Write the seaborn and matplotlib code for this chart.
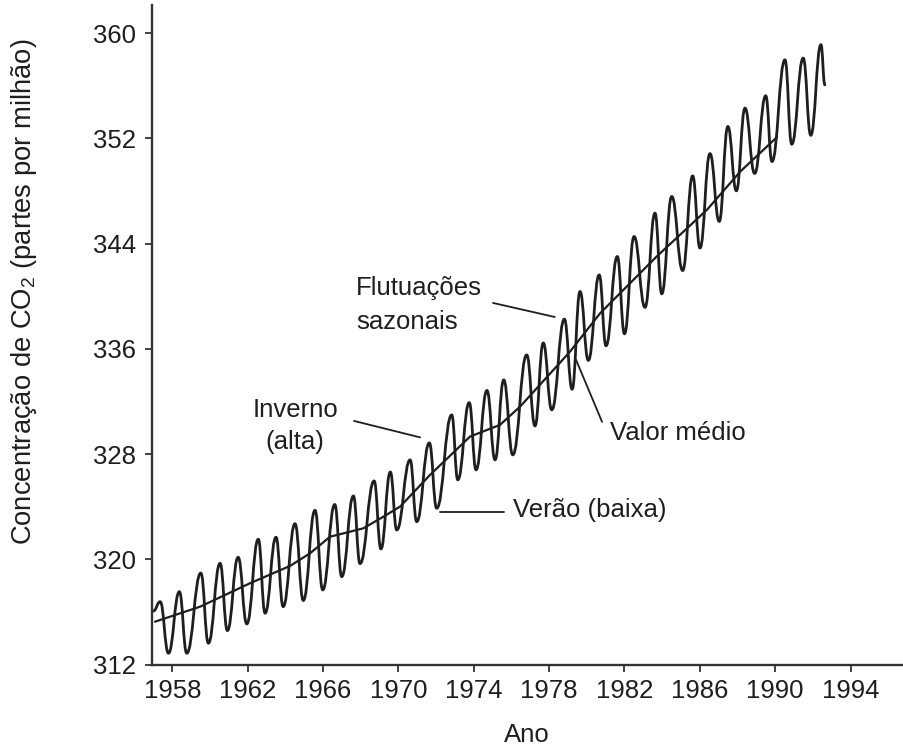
import numpy as np
import pandas as pd
import matplotlib
matplotlib.use("Agg")
import matplotlib.pyplot as plt
from matplotlib.path import Path
from matplotlib.patches import PathPatch
import seaborn as sns

# seasonal curve: start point, then alternating peaks (winter) and troughs (summer)
season_year = [1956.99, 1957.35, 1957.79, 1958.37, 1958.76, 1959.51, 1959.91, 1960.53, 1960.92,
               1961.49, 1961.95, 1962.56, 1962.92, 1963.50, 1963.88, 1964.51, 1964.95, 1965.57,
               1965.98, 1966.62, 1966.99, 1967.61, 1967.96, 1968.71, 1969.07, 1969.57, 1969.91,
               1970.62, 1970.97, 1971.64, 1972.03, 1972.83, 1973.15, 1973.76, 1974.12, 1974.70,
               1975.13, 1975.59, 1976.07, 1976.81, 1977.25, 1977.69, 1978.14, 1978.81, 1979.22,
               1979.64, 1980.08, 1980.66, 1981.02, 1981.62, 1982.00, 1982.51, 1983.09, 1983.62,
               1983.98, 1984.51, 1985.09, 1985.62, 1986.01, 1986.54, 1987.03, 1987.49, 1987.94,
               1988.40, 1988.91, 1989.50, 1989.83, 1990.52, 1990.88, 1991.49, 1991.89, 1992.43,
               1992.64]
season_ppm = [316.08, 316.79, 312.87, 317.55, 312.87, 318.97, 313.63, 319.71, 314.59,
              320.17, 315.10, 321.54, 315.91, 321.69, 316.41, 322.72, 316.88, 323.74,
              317.68, 324.18, 318.69, 324.83, 319.68, 325.97, 320.80, 326.65, 322.24,
              327.57, 322.87, 328.86, 323.89, 330.99, 326.05, 331.92, 326.81, 332.85,
              327.57, 333.65, 327.95, 335.55, 330.15, 336.46, 331.37, 338.27, 332.94,
              340.37, 335.13, 341.63, 336.24, 343.03, 337.15, 344.55, 339.16, 346.33,
              340.19, 347.59, 341.96, 349.16, 343.67, 350.85, 345.69, 352.91, 348.02,
              354.31, 349.34, 355.25, 350.25, 357.98, 351.56, 358.11, 352.24, 359.13,
              356.08]

# smoothed mean value
mean_year = [1957.08, 1959.47, 1962.12, 1964.25, 1965.31, 1966.37, 1967.43, 1968.14, 1969.20,
             1970.09, 1971.68, 1973.80, 1975.39, 1976.46, 1979.11, 1980.71, 1983.71, 1986.38,
             1988.15, 1990.10]
mean_ppm = [315.27, 316.41, 318.19, 319.51, 320.47, 321.73, 322.11, 322.37, 323.25,
            324.02, 326.43, 329.34, 330.23, 331.62, 335.80, 338.72, 343.03, 346.58,
            349.49, 352.11]

x_ticks = [1958, 1962, 1966, 1970, 1974, 1978, 1982, 1986, 1990, 1994]
y_ticks = [312, 320, 328, 336, 344, 352, 360]

INK = "#1e1e1e"
FS = 18.5

sns.set_style("ticks")
plt.rcParams["font.family"] = ["Liberation Sans", "DejaVu Sans"]
plt.rcParams["mathtext.fontset"] = "custom"
plt.rcParams["mathtext.rm"] = "Liberation Sans"
plt.rcParams["mathtext.it"] = "Liberation Sans"
plt.rcParams["mathtext.default"] = "regular"

fig = plt.figure(figsize=(9.04, 7.52), dpi=100)
ax = fig.add_axes([0.1678, 0.1161, 0.8322, 0.8773])


def smooth_path(xs, ys):
    # cubic segments with flat tangents at every turning point
    verts = [(xs[0], ys[0])]
    codes = [Path.MOVETO]
    for x0, y0, x1, y1 in zip(xs[:-1], ys[:-1], xs[1:], ys[1:]):
        d = x1 - x0
        verts += [(x0 + 0.45 * d, y0), (x1 - 0.45 * d, y1), (x1, y1)]
        codes += [Path.CURVE4] * 3
    return Path(verts, codes)


ax.add_patch(PathPatch(smooth_path(season_year, season_ppm), fill=False,
                       edgecolor=INK, lw=2.0, capstyle="round", joinstyle="round"))

df_mean = pd.DataFrame({"ano": mean_year, "ppm": mean_ppm})
sns.lineplot(data=df_mean, x="ano", y="ppm", color=INK, lw=1.6, ax=ax)

ax.set_xlim(1956.9, 1996.84)
ax.set_ylim(312, 362.15)
ax.set_xticks(x_ticks)
ax.set_yticks(y_ticks)
ax.set_xlabel("")
ax.set_ylabel("")
sns.despine(ax=ax)
for s in ["left", "bottom"]:
    ax.spines[s].set_linewidth(1.7)
    ax.spines[s].set_color("#333333")
ax.tick_params(axis="both", direction="out", length=5, width=1.3, color="#333333",
               labelsize=FS, labelcolor=INK)
ax.tick_params(axis="x", pad=5)
ax.tick_params(axis="y", pad=6)

# annotations
txt = dict(fontsize=FS, color=INK, va="center")
ax.text(1967.75, 340.65, "Flutuações", ha="left", **txt)
ax.text(1967.75, 338.06, "sazonais", ha="left", **txt)
ax.plot([1975.02, 1978.30], [339.50, 338.43], color=INK, lw=1.3)

ax.text(1964.51, 331.37, "Inverno", ha="center", **txt)
ax.text(1964.51, 328.94, "(alta)", ha="center", **txt)
ax.plot([1967.64, 1971.15], [330.53, 329.28], color=INK, lw=1.3)

ax.text(1976.09, 323.76, "Verão (baixa)", ha="left", **txt)
ax.plot([1972.21, 1975.60], [323.61, 323.61], color=INK, lw=1.3)

ax.text(1981.23, 329.62, "Valor médio", ha="left", **txt)
ax.plot([1979.43, 1980.81], [335.17, 330.46], color=INK, lw=1.3)

fig.text(527 / 904, 1 - 735 / 752, "Ano", ha="center", va="center", fontsize=FS, color=INK)
fig.text(24 / 904, 1 - 292 / 752, "Concentração de CO$_2$ (partes por milhão)",
         rotation=90, ha="center", va="center", fontsize=19.7, color=INK)

fig.savefig("out.png", dpi=100)
